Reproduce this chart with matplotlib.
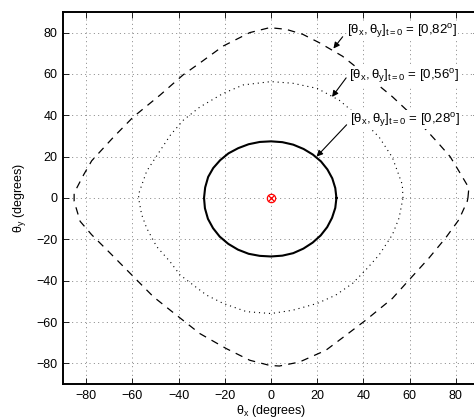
import matplotlib
matplotlib.use("Agg")
import matplotlib.pyplot as plt
import numpy as np

plt.rcParams['font.family'] = ['Liberation Sans', 'DejaVu Sans']
plt.rcParams['mathtext.fontset'] = 'custom'
plt.rcParams['mathtext.rm'] = 'Liberation Sans'
plt.rcParams['mathtext.it'] = 'Liberation Sans'
plt.rcParams['mathtext.default'] = 'regular'

# trajectories (theta_x, theta_y in degrees)
x82 = [85.2, 85.6, 81.3, 77.5, 72.7, 63.0, 52.5, 41.0, 30.9, 20.9, 13.7, 6.5, -0.6,
       -9.2, -20.7, -30.8, -38.0, -48.0, -59.6, -68.2, -77.6, -81.0, -85.2, -85.2,
       -82.6, -77.6, -69.6, -60.3, -50.9, -40.9, -30.8, -19.3, -9.2, -0.6, 3.6, 12.2,
       23.7, 32.4, 41.0, 52.5, 59.7, 68.3, 75.5, 81.3, 84.9, 85.2]
y82 = [0.0, 4.9, 13.0, 20.0, 26.1, 38.0, 49.0, 59.6, 68.6, 75.1, 79.2, 81.6, 82.4,
       80.0, 73.5, 65.3, 59.6, 49.8, 39.2, 29.4, 18.0, 11.4, 2.4, -1.6,
       -11.3, -17.8, -26.7, -37.2, -47.8, -56.7, -65.6, -72.9, -78.5, -81.0, -81.3, -79.4,
       -73.7, -66.4, -59.1, -48.6, -39.7, -29.1, -19.4, -10.5, -1.6, 0.0]

x56 = [57.1, 56.8, 52.5, 46.8, 38.1, 29.5, 20.0, 9.4, 0.0, -12.0, -20.7, -30.8, -38.0,
       -43.5, -48.0, -53.8, -57.4, -57.0, -56.0, -53.8, -49.5, -43.7, -39.4, -33.7,
       -27.9, -20.7, -10.6, 0.0, 9.4, 20.0, 28.0, 35.3, 41.0, 46.8, 52.5, 55.4, 57.1]
y56 = [0.0, 6.5, 19.6, 29.4, 39.2, 47.3, 53.0, 55.5, 56.3, 54.7, 50.6, 44.0, 37.6,
       30.5, 22.9, 13.0, 1.6, -2.0, -8.0, -14.6, -23.5, -30.8, -37.2, -42.1,
       -47.0, -51.0, -55.0, -55.9, -54.3, -51.0, -47.0, -41.3, -34.8, -27.5, -17.8, -9.7, 0.0]

x28 = [28.3, 27.8, 26.5, 24.4, 21.6, 18.1, 14.1, 9.6, 4.9, 0.0, -4.9, -9.7, -14.2,
       -18.4, -22.0, -25.0, -27.2, -28.5, -29.0, -28.6, -27.3, -25.1, -22.2, -18.5,
       -14.3, -9.7, -4.9, 0.0, 4.9, 9.6, 14.0, 18.0, 21.5, 24.3, 26.4, 27.8, 28.3]
y28 = [0.0, 4.8, 9.5, 13.8, 17.7, 21.0, 23.7, 25.8, 27.0, 27.4, 27.1, 26.0, 24.1,
       21.6, 18.3, 14.5, 10.2, 5.1, 0.0, -5.0, -10.1, -14.6, -18.7, -22.2,
       -25.0, -27.0, -28.0, -28.3, -27.9, -26.7, -24.5, -21.6, -18.1, -14.1, -9.6, -4.8, 0.0]

labels = [r'$[\theta_x,\theta_y]_{t=0}$ = [0,82$^o$]',
          r'$[\theta_x,\theta_y]_{t=0}$ = [0,56$^o$]',
          r'$[\theta_x,\theta_y]_{t=0}$ = [0,28$^o$]']
text_xy = [(33.0, 80.7), (33.9, 58.9), (34.2, 37.9)]
tail_xy = [(31.0, 78.0), (32.5, 58.1), (32.7, 35.4)]
head_xy = [(27.0, 72.3), (26.4, 48.9), (19.7, 20.0)]

ticks = [-80, -60, -40, -20, 0, 20, 40, 60, 80]

fig = plt.figure(figsize=(4.74, 4.19), dpi=100)
ax = fig.add_axes([0.133, 0.0835, 0.8776, 0.888])

ax.plot(x82, y82, color='k', lw=0.9, dashes=(6.0, 5.0))
ax.plot(x56, y56, color='k', lw=0.8, dashes=(1.0, 3.5))
ax.plot(x28, y28, color='k', lw=1.5)
ax.plot([0], [0], 'o', ms=6, mfc='none', mec='red', mew=0.9)
ax.plot([0], [0], 'x', ms=5, mec='red', mew=0.9)

for lab, txy, tl, hd in zip(labels, text_xy, tail_xy, head_xy):
    ax.text(txy[0], txy[1], lab, fontsize=9.5, va='center', ha='left',
            bbox=dict(facecolor='white', edgecolor='none', pad=0.5))
    ax.annotate('', xy=hd, xytext=tl,
                arrowprops=dict(arrowstyle='-|>', lw=0.8, color='k',
                                mutation_scale=9, shrinkA=0, shrinkB=0))

ax.set_xlim(-90, 90)
ax.set_ylim(-90, 90)
ax.set_xticks(ticks)
ax.set_yticks(ticks)
ax.set_xticklabels(['\u2212%d' % -t if t < 0 else str(t) for t in ticks])
ax.set_yticklabels(['\u2212%d' % -t if t < 0 else str(t) for t in ticks])
ax.tick_params(direction='in', top=True, right=True, length=4, width=0.6,
               labelsize=9, pad=4)
ax.grid(True, color='0.45', lw=0.6, linestyle=(0, (1.2, 4.0)))
for s in ax.spines.values():
    s.set_linewidth(1.4)

ax.set_xlabel(r'$\theta_x$ (degrees)', fontsize=9, labelpad=1)
ax.set_ylabel(r'$\theta_y$ (degrees)', fontsize=9, labelpad=6)

fig.savefig('out.png', dpi=100)
